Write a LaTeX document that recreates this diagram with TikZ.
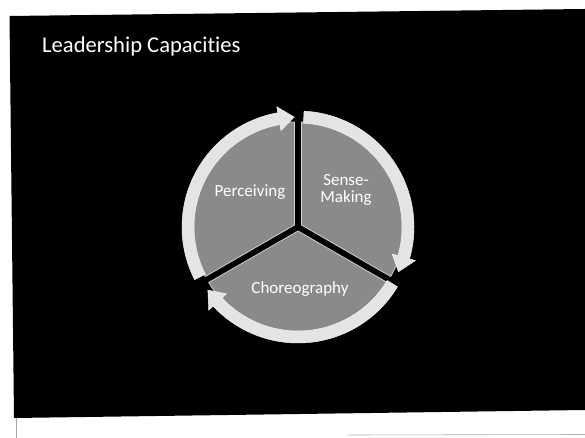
\documentclass[tikz,border=0pt]{standalone}
\usepackage{fontspec}
\setmainfont[Ligatures=NoCommon]{Carlito}
\definecolor{sectorfill}{HTML}{8A8A8A}
\definecolor{sectoredge}{HTML}{D0D0D0}
\definecolor{ringfill}{HTML}{E4E4E4}
\definecolor{ringedge}{HTML}{F4F4F4}
\tikzset{
  sector/.style={fill=sectorfill, draw=sectoredge, line width=0.8pt},
  ringarrow/.style={fill=ringfill, draw=ringedge, line width=0.5pt},
  label/.style={text=white, font=\fontsize{17}{17}\selectfont, align=center, inner sep=0pt},
  titletext/.style={text=white, font=\fontsize{22.6}{26}\selectfont, inner sep=0pt, anchor=base west}
}
\newcommand\myringarrow[3]{%
  \path[ringarrow] ([shift={(#1:116)}]c) arc[start angle=#1,end angle=#2,radius=116]
    -- ([shift={(#2:122)}]c) -- ([shift={(#3:110)}]c) -- ([shift={(#2:98)}]c)
    -- ([shift={(#2:104)}]c) arc[start angle=#2,end angle=#1,radius=104] -- cycle;}
\begin{document}
\begin{tikzpicture}[x=1pt,y=1pt]
\useasboundingbox (0,0) rectangle (585,438);
\fill[white] (0,0) rectangle (585,438);
% slide
\fill[black] (9.5,422) -- (585,429) -- (585,28) -- (14,20) -- cycle;
\draw[gray!70, line width=0.8pt] (16.7,20) -- (16.7,0);
\draw[gray!60, line width=0.6pt] (347,3) -- (585,3.5);
% title
\node[titletext] (title) at (42,385) {Leadership Capacities};
% pie
\coordinate (c) at (298,211);
\path[sector] ([shift={(150:4)}]c) -- ++(90:103) arc[start angle=90,end angle=210,radius=103] -- cycle;
\path[sector] ([shift={(30:4)}]c) -- ++(-30:103) arc[start angle=-30,end angle=90,radius=103] -- cycle;
\path[sector] ([shift={(270:4)}]c) -- ++(210:103) arc[start angle=210,end angle=330,radius=103] -- cycle;
% ring arrows
\myringarrow{207}{100}{92}
\myringarrow{87}{-16}{-24}
\myringarrow{329}{223}{215}
% labels
\node[label] (perc) at (250,246) {Perceiving};
\node[label] (sense) at (346,248) {Sense-\\Making};
\node[label] (chor) at (300,149) {Choreography};
\end{tikzpicture}
\end{document}
